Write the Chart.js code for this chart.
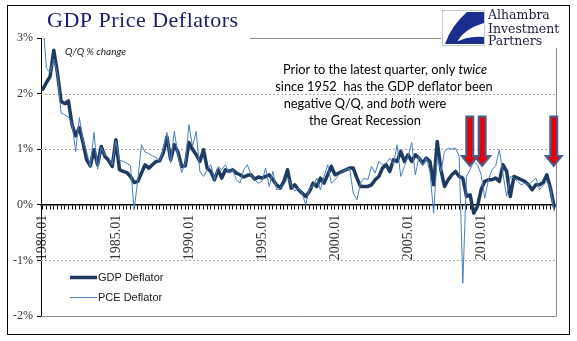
<!DOCTYPE html>
<html>
<head>
<meta charset="utf-8">
<script src="https://cdn.jsdelivr.net/npm/chart.js@4.4.1/dist/chart.umd.min.js"></script>
<style>
  html, body { margin: 0; padding: 0; background: #fff; }
  canvas { display: block; }
</style>
</head>
<body>
<canvas id="chart" width="577" height="341"></canvas>
<script>
// Quarterly periods, 1980.01 through 2015.01
const quarters = [
  "1980.01","1980.04","1980.07","1980.10","1981.01","1981.04","1981.07","1981.10",
  "1982.01","1982.04","1982.07","1982.10","1983.01","1983.04","1983.07","1983.10",
  "1984.01","1984.04","1984.07","1984.10","1985.01","1985.04","1985.07","1985.10",
  "1986.01","1986.04","1986.07","1986.10","1987.01","1987.04","1987.07","1987.10",
  "1988.01","1988.04","1988.07","1988.10","1989.01","1989.04","1989.07","1989.10",
  "1990.01","1990.04","1990.07","1990.10","1991.01","1991.04","1991.07","1991.10",
  "1992.01","1992.04","1992.07","1992.10","1993.01","1993.04","1993.07","1993.10",
  "1994.01","1994.04","1994.07","1994.10","1995.01","1995.04","1995.07","1995.10",
  "1996.01","1996.04","1996.07","1996.10","1997.01","1997.04","1997.07","1997.10",
  "1998.01","1998.04","1998.07","1998.10","1999.01","1999.04","1999.07","1999.10",
  "2000.01","2000.04","2000.07","2000.10","2001.01","2001.04","2001.07","2001.10",
  "2002.01","2002.04","2002.07","2002.10","2003.01","2003.04","2003.07","2003.10",
  "2004.01","2004.04","2004.07","2004.10","2005.01","2005.04","2005.07","2005.10",
  "2006.01","2006.04","2006.07","2006.10","2007.01","2007.04","2007.07","2007.10",
  "2008.01","2008.04","2008.07","2008.10","2009.01","2009.04","2009.07","2009.10",
  "2010.01","2010.04","2010.07","2010.10","2011.01","2011.04","2011.07","2011.10",
  "2012.01","2012.04","2012.07","2012.10","2013.01","2013.04","2013.07","2013.10",
  "2014.01","2014.04","2014.07","2014.10","2015.01"
];

// Labelled periods on the horizontal axis
const tickLabels = ["1980.01","1985.01","1990.01","1995.01","2000.01","2005.01","2010.01"];

// GDP deflator, Q/Q % change
const gdpDeflator = [
  2.08, 2.20, 2.31, 2.78, 2.37, 1.86, 1.82, 1.87,
  1.44, 1.24, 1.39, 1.12, 0.81, 0.70, 0.99, 0.72,
  1.05, 0.87, 0.80, 0.69, 1.17, 0.63, 0.60, 0.58,
  0.51, 0.40, 0.42, 0.57, 0.72, 0.66, 0.72, 0.78,
  0.79, 0.94, 1.22, 0.81, 1.08, 0.95, 0.69, 0.70,
  1.12, 1.00, 0.90, 0.78, 0.99, 0.66, 0.60, 0.45,
  0.63, 0.48, 0.63, 0.60, 0.63, 0.57, 0.54, 0.50,
  0.53, 0.54, 0.46, 0.50, 0.48, 0.51, 0.54, 0.45,
  0.36, 0.30, 0.42, 0.63, 0.30, 0.36, 0.27, 0.21,
  0.15, 0.24, 0.39, 0.33, 0.48, 0.39, 0.54, 0.69,
  0.54, 0.57, 0.60, 0.63, 0.66, 0.66, 0.48, 0.33,
  0.33, 0.33, 0.36, 0.45, 0.51, 0.66, 0.72, 0.60,
  0.81, 0.78, 0.96, 0.78, 0.90, 0.78, 0.90, 0.84,
  0.75, 0.84, 0.78, 0.36, 1.14, 0.63, 0.33, 0.45,
  0.54, 0.60, 0.51, 0.48, 0.15, 0.18, -0.15, -0.03,
  0.27, 0.42, 0.45, 0.45, 0.48, 0.42, 0.72, 0.60,
  0.15, 0.51, 0.48, 0.45, 0.42, 0.36, 0.27, 0.36,
  0.36, 0.40, 0.54, 0.30, -0.03
];

// PCE deflator, Q/Q % change
const pceDeflator = [
  3.30, 2.45, 2.38, 2.62, 2.35, 1.65, 1.62, 1.58,
  1.45, 0.96, 1.57, 1.17, 0.95, 0.69, 1.30, 0.64,
  1.03, 0.90, 0.85, 0.72, 1.15, 0.80, 0.78, 0.75,
  0.70, -0.09, 0.45, 1.08, 0.95, 0.92, 0.88, 0.85,
  0.79, 1.00, 1.30, 0.75, 1.32, 0.90, 0.58, 0.75,
  1.44, 1.05, 1.32, 0.60, 0.51, 0.63, 0.72, 0.45,
  0.69, 0.63, 0.72, 0.57, 0.63, 0.45, 0.39, 0.63,
  0.72, 0.54, 0.45, 0.39, 0.42, 0.66, 0.33, 0.60,
  0.27, 0.30, 0.36, 0.48, 0.36, 0.25, 0.30, 0.20,
  0.00, 0.30, 0.33, 0.48, 0.27, 0.51, 0.72, 0.39,
  0.45, 0.54, 0.60, 0.63, 0.66, 0.21, 0.09, 0.39,
  0.48, 0.45, 0.69, 0.57, 0.78, 0.72, 0.75, 0.84,
  0.72, 1.08, 0.51, 0.69, 0.87, 1.12, 0.54, 0.87,
  0.70, 0.84, 0.60, -0.15, 0.87, 0.60, 0.96, 1.02,
  1.00, 1.02, 0.87, -1.41, 0.51, 0.63, 0.78, 0.72,
  0.55, 0.12, 0.45, 0.63, 0.70, 0.99, 0.55, 0.15,
  0.51, 0.48, 0.42, 0.36, 0.39, 0.36, 0.42, 0.48,
  0.27, 0.35, 0.42, 0.30, -0.12
];

// Quarters the call-out arrows point at (category positions)
const arrowAt = [116.9, 120.3, 139.9];

const GDP_COLOR = '#1F3A60';
const PCE_COLOR = '#4A7EBB';

function line(ctx, x1, y1, x2, y2) {
  ctx.beginPath(); ctx.moveTo(x1, y1); ctx.lineTo(x2, y2); ctx.stroke();
}

// Dashed gridlines and the gray plot border
const plotDecor = {
  id: 'plotDecor',
  beforeDatasetsDraw(chart) {
    const { ctx, chartArea: a, scales: { y } } = chart;
    ctx.save();
    ctx.lineWidth = 1;
    ctx.strokeStyle = '#ABABAB';
    ctx.setLineDash([2, 2]);
    [2, 1, -1].forEach(v => {
      const py = Math.round(y.getPixelForValue(v)) + 0.5;
      line(ctx, a.left, py, a.right, py);
    });
    ctx.setLineDash([]);
    ctx.strokeStyle = '#8A8A8A';
    const yb = Math.round(y.getPixelForValue(-2)) + 0.5;
    line(ctx, a.left, yb, a.right, yb);
    const yt = Math.round(y.getPixelForValue(3)) + 0.5;
    line(ctx, 250, yt, a.right, yt);
    const xr = Math.round(a.right) + 0.5;
    line(ctx, xr, 48, xr, yb);
    ctx.restore();
  }
};

// Block arrows marking the negative quarters
const callouts = {
  id: 'callouts',
  afterDatasetsDraw(chart) {
    const { ctx, scales: { x, y } } = chart;
    const top = y.getPixelForValue(1.59);
    const tip = y.getPixelForValue(0.70);
    const headH = 10, shaftW = 7, headW = 16;
    ctx.save();
    arrowAt.forEach(pos => {
      const cx = x.getPixelForValue(pos);
      ctx.beginPath();
      ctx.moveTo(cx - shaftW / 2, top);
      ctx.lineTo(cx + shaftW / 2, top);
      ctx.lineTo(cx + shaftW / 2, tip - headH);
      ctx.lineTo(cx + headW / 2, tip - headH);
      ctx.lineTo(cx, tip);
      ctx.lineTo(cx - headW / 2, tip - headH);
      ctx.lineTo(cx - shaftW / 2, tip - headH);
      ctx.closePath();
      ctx.fillStyle = '#E3000F';
      ctx.fill();
      ctx.lineWidth = 2;
      ctx.strokeStyle = '#46618A';
      ctx.lineJoin = 'miter';
      ctx.stroke();
    });
    ctx.restore();
  }
};

// Title, notes, legend, logo and outer frame
const chrome = {
  id: 'chrome',
  beforeDraw(chart) {
    const { ctx, width, height } = chart;
    ctx.save();
    ctx.fillStyle = '#fff';
    ctx.fillRect(0, 0, width, height);
    ctx.restore();
  },
  afterDraw(chart) {
    const { ctx } = chart;
    ctx.save();

    // Title
    ctx.fillStyle = '#1B1B6A';
    ctx.font = '22px "Liberation Serif", serif';
    ctx.letterSpacing = '0.5px';
    ctx.textBaseline = 'alphabetic';
    ctx.textAlign = 'left';
    ctx.fillText('GDP Price Deflators', 47, 27);
    ctx.letterSpacing = '0px';

    // Units note
    ctx.fillStyle = '#222';
    ctx.font = 'italic 10px Lato, sans-serif';
    ctx.fillText('Q/Q % change', 65, 55);

    // Commentary, with italic emphasis
    const reg = '12.8px Lato, sans-serif';
    const ital = 'italic 12.8px Lato, sans-serif';
    const notes = [
      { cx: 385, y: 74, parts: [['Prior to the latest quarter, only ', reg], ['twice', ital]] },
      { cx: 384, y: 91, parts: [['since 1952  has the GDP deflator been', reg]] },
      { cx: 365, y: 108, parts: [['negative Q/Q, and ', reg], ['both', ital], [' were', reg]] },
      { cx: 365, y: 125, parts: [['the Great Recession', reg]] }
    ];
    ctx.fillStyle = '#000';
    notes.forEach(n => {
      let w = 0;
      n.parts.forEach(([t, f]) => { ctx.font = f; w += ctx.measureText(t).width; });
      let xx = n.cx - w / 2;
      n.parts.forEach(([t, f]) => { ctx.font = f; ctx.fillText(t, xx, n.y); xx += ctx.measureText(t).width; });
    });

    // Legend
    const ds = chart.data.datasets;
    const rows = [277.5, 297.5];
    ds.forEach((d, i) => {
      ctx.strokeStyle = d.borderColor;
      ctx.lineWidth = d.borderWidth;
      ctx.lineCap = 'butt';
      line(ctx, 70, rows[i], 97, rows[i]);
      ctx.fillStyle = '#1a1a1a';
      ctx.font = '11px "Liberation Sans", Arial, sans-serif';
      ctx.textBaseline = 'middle';
      ctx.fillText(d.label, 98, rows[i]);
    });
    ctx.textBaseline = 'alphabetic';

    // Logo
    ctx.fillStyle = '#fff';
    ctx.fillRect(441, 8, 124, 40);
    ctx.strokeStyle = '#C9C9C9';
    ctx.lineWidth = 1;
    ctx.strokeRect(442.5, 10.5, 42, 35);
    ctx.fillStyle = '#1B2E8E';
    ctx.beginPath();
    ctx.moveTo(484, 12);
    ctx.lineTo(467, 12);
    ctx.quadraticCurveTo(451, 26, 445, 44);
    ctx.lineTo(456, 44);
    ctx.quadraticCurveTo(463, 29, 484, 23);
    ctx.closePath();
    ctx.fill();
    ctx.beginPath();
    ctx.moveTo(452, 44);
    ctx.quadraticCurveTo(468, 35, 484, 37);
    ctx.lineTo(484, 44);
    ctx.closePath();
    ctx.fill();
    ctx.fillStyle = '#1E1E3A';
    ctx.font = '12.5px "DejaVu Serif", serif';
    ctx.fillText('Alhambra', 488, 19);
    ctx.fillText('Investment', 488, 33);
    ctx.fillText('Partners', 488, 45);

    // Outer frame
    ctx.strokeStyle = '#000';
    ctx.lineWidth = 1;
    ctx.strokeRect(7.5, 5.5, 562, 329);
    ctx.restore();
  }
};

new Chart(document.getElementById('chart'), {
  type: 'line',
  data: {
    labels: quarters,
    datasets: [
      {
        label: 'GDP Deflator',
        data: gdpDeflator,
        borderColor: GDP_COLOR,
        borderWidth: 3.5,
        pointRadius: 0,
        tension: 0,
        borderJoinStyle: 'round',
        borderCapStyle: 'round',
        order: 2
      },
      {
        label: 'PCE Deflator',
        data: pceDeflator,
        borderColor: PCE_COLOR,
        borderWidth: 1,
        pointRadius: 0,
        tension: 0,
        borderJoinStyle: 'round',
        order: 1
      }
    ]
  },
  options: {
    responsive: false,
    animation: false,
    devicePixelRatio: 1,
    events: [],
    layout: { padding: { top: 38, right: 20, bottom: 25, left: 0 } },
    plugins: { legend: { display: false }, tooltip: { enabled: false }, title: { display: false } },
    scales: {
      x: {
        type: 'category',
        position: { y: 0 },
        offset: true,
        grid: { drawOnChartArea: false, drawTicks: true, tickLength: 4, tickColor: '#000', tickWidth: 1 },
        border: { display: true, color: '#000', width: 1.5 },
        ticks: {
          autoSkip: false,
          minRotation: 90,
          maxRotation: 90,
          padding: 6,
          color: '#333',
          font: { family: '"Liberation Serif", serif', size: 14 },
          callback: function (v, i) {
            const lab = quarters[i];
            return tickLabels.includes(lab) ? lab : '';
          }
        }
      },
      y: {
        min: -2,
        max: 3,
        afterFit(scale) { scale.width = 41; },
        grid: { drawOnChartArea: false, drawTicks: true, tickLength: 4, tickColor: '#000' },
        border: { display: true, color: '#000', width: 1 },
        ticks: {
          stepSize: 1,
          padding: 4,
          color: '#333',
          font: { family: '"Liberation Serif", serif', size: 12 },
          callback: v => v + '%'
        }
      }
    }
  },
  plugins: [plotDecor, callouts, chrome]
});
</script>
</body>
</html>
